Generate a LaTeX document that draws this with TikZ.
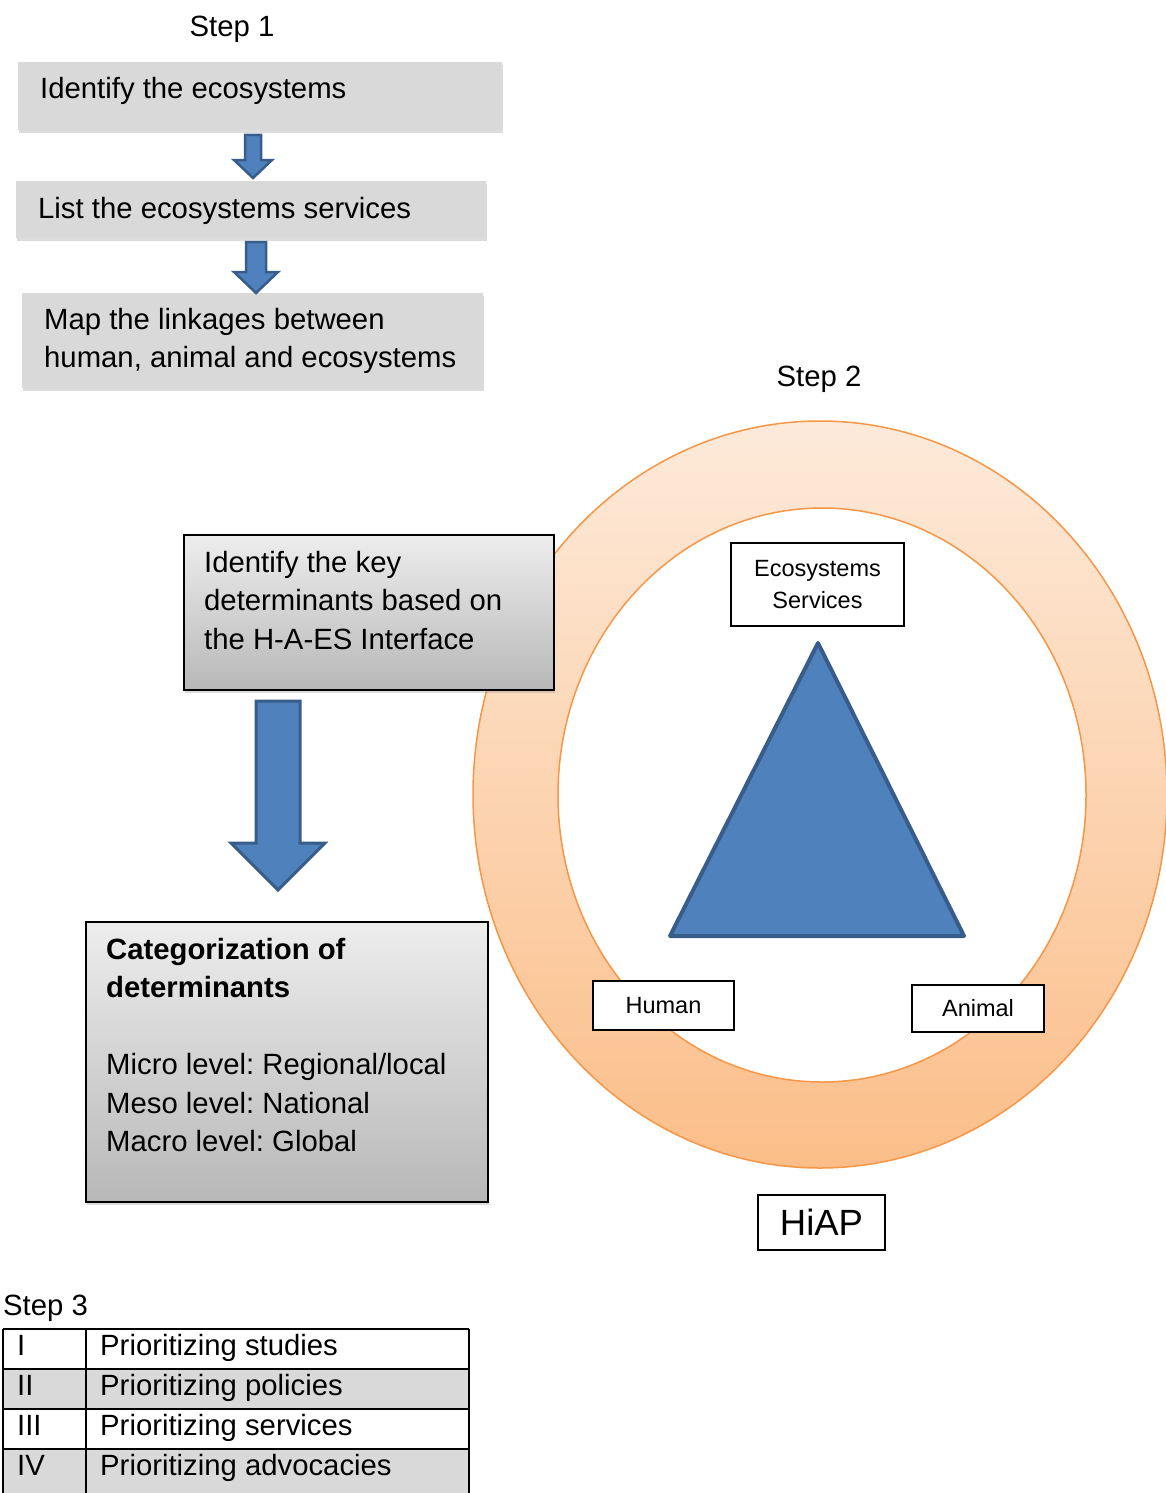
\documentclass[tikz,border=0pt]{standalone}
\usepackage{fontspec}
\setmainfont{Liberation Sans}
\usetikzlibrary{shadows}
\frenchspacing

\definecolor{boxgrey}{RGB}{217,217,217}
\definecolor{arrowblue}{RGB}{79,129,189}
\definecolor{arrowedge}{RGB}{56,93,138}
\definecolor{ringtop}{RGB}{253,234,218}
\definecolor{ringbot}{RGB}{251,190,137}
\definecolor{ringedge}{RGB}{247,150,70}

\begin{document}
\begin{tikzpicture}[x=1pt,y=-1pt,
  greybox/.style={fill=boxgrey,anchor=north west,inner sep=0,
    drop shadow={shadow xshift=0.8pt,shadow yshift=-3pt,opacity=.28}},
  shadebox/.style={draw=black,line width=2pt,top color=black!7,bottom color=black!28,
    anchor=north west,inner sep=0,
    drop shadow={shadow xshift=0.8pt,shadow yshift=-3pt,opacity=.28}},
  words/.style={font=\fontsize{29.3}{38.5}\selectfont,inner sep=0,align=left},
  tag/.style={draw=black,line width=1.2pt,fill=white,inner sep=0,
    font=\fontsize{23.5}{32}\selectfont,align=center},
  blockarrow/.style={fill=arrowblue,draw=arrowedge,line width=2.5pt},
  rule/.style={line width=1.8pt}]
\useasboundingbox (0,0) rectangle (1165,1493);

% step 1
\node [words,anchor=base] (step1) at (232,37) {Step 1};
\node [greybox,minimum width=484,minimum height=68] (ident) at (18,62) {};
\node [words,anchor=base west] (identtext) at (40,99) {Identify the ecosystems};
\node [greybox,minimum width=470,minimum height=57] (listsvc) at (16,181) {};
\node [words,anchor=base west] (listtext) at (38,218) {List the ecosystems services};
\node [greybox,minimum width=461,minimum height=95] (linkmap) at (22,293) {};
\node [words,anchor=north west] (linktext) at (44,308) {Map the linkages between\\human, animal and ecosystems};
\draw [blockarrow] (245,135) -- (261,135) -- (261,160) -- (272,160) -- (253,178) -- (234,160) -- (245,160) -- cycle;
\draw [blockarrow] (246,242) -- (266,242) -- (266,272) -- (278,272) -- (256,293) -- (234,272) -- (246,272) -- cycle;

% step 2
\node [words,anchor=base] (step2) at (819,386) {Step 2};
\path [even odd rule,top color=ringtop,bottom color=ringbot,draw=ringedge,line width=1.5pt]
  (820,794.5) ellipse [x radius=347pt,y radius=373.5pt]
  (822,795) ellipse [x radius=264pt,y radius=287pt];
\draw [fill=arrowblue,draw=arrowedge,line width=4pt,line join=round] (818,643) -- (964,936) -- (670,936) -- cycle;
\node [tag,minimum width=173,minimum height=83] (ecoserv) at (817.5,584.5) {Ecosystems\\Services};
\node [tag,minimum width=141,minimum height=49] (human) at (663.5,1005.5) {Human};
\node [tag,minimum width=132,minimum height=47] (animal) at (978,1008.5) {Animal};
\node [tag,minimum width=127,minimum height=55,font=\fontsize{36.5}{40}\selectfont] (hiap) at (821.5,1222.5) {HiAP};

\node [shadebox,minimum width=370,minimum height=155] (keydet) at (183,534) {};
\node [words,anchor=north west] (keytext) at (204,551) {Identify the key\\determinants based on\\the H-A-ES Interface};
\draw [blockarrow,line width=3pt] (256,701) -- (300,701) -- (300,843) -- (325,843) -- (278,890) -- (231,843) -- (256,843) -- cycle;
\node [shadebox,minimum width=402,minimum height=280] (categ) at (85,921) {};
\node [words,anchor=north west] (categtext) at (106,938)
  {\textbf{Categorization of}\\\textbf{determinants}\\[38.5pt]Micro level: Regional/local\\Meso level: National\\Macro level: Global};

% step 3
\node [words,anchor=base west] (step3) at (3,1315) {Step 3};
\fill [boxgrey] (3,1369) rectangle (469,1409);
\fill [boxgrey] (3,1449) rectangle (469,1495);
\draw [rule] (3,1329) -- (469,1329);
\draw [rule] (3,1329) -- (3,1495) (86,1329) -- (86,1495) (469,1329) -- (469,1495);
\foreach \y in {1369,1409,1449}
  \draw [rule] (3,\y) -- (469,\y);
\foreach \num/\what [count=\r] in {I/studies,II/policies,III/services,IV/advocacies} {
  \node [words,anchor=base west] (rank\r) at (17,1315+40*\r) {\num};
  \node [words,anchor=base west] (prio\r) at (100,1315+40*\r) {Prioritizing \what};
}
\end{tikzpicture}
\end{document}
